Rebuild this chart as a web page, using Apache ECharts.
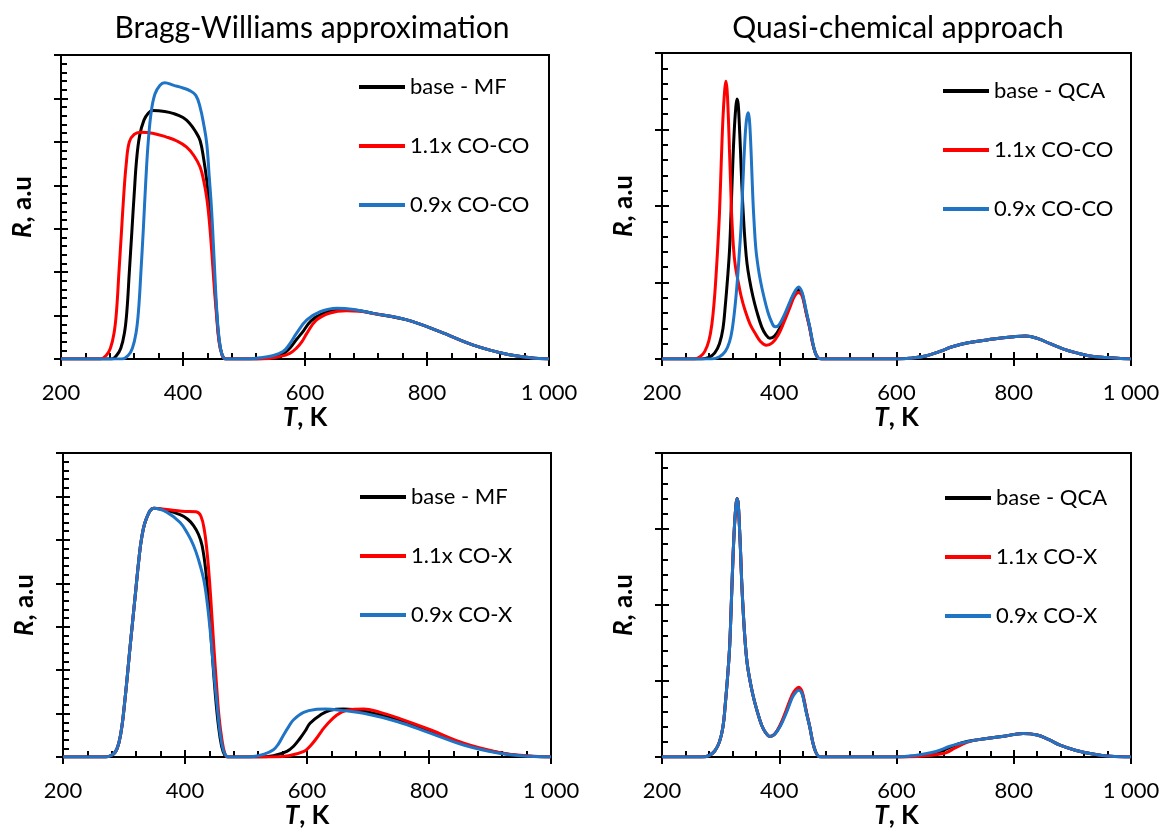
<!DOCTYPE html>
<html>
<head>
<meta charset="utf-8">
<title>TPD panels</title>
<script src="https://cdn.jsdelivr.net/npm/echarts@6/dist/echarts.min.js"></script>
<style>
  html, body { margin: 0; padding: 0; background: #fff; }
  #chart { width: 1163px; height: 830px; }
</style>
</head>
<body>
<div id="chart"></div>
<script>
// ---- text ----
const panelTitles = ['Bragg-Williams approximation', 'Quasi-chemical approach'];
const namesBwCoCo = ['base - MF', '1.1x CO-CO', '0.9x CO-CO'];
const namesQcaCoCo = ['base - QCA', '1.1x CO-CO', '0.9x CO-CO'];
const namesBwCoX = ['base - MF', '1.1x CO-X', '0.9x CO-X'];
const namesQcaCoX = ['base - QCA', '1.1x CO-X', '0.9x CO-X'];

// ---- axes ----
const tempTicks = [200, 400, 600, 800, 1000];
const tempTickLabels = ['200', '400', '600', '800', '1 000'];
const rMaxBw = 7;
const rMaxQca = 4;

// ---- Bragg-Williams, CO-CO scaling (T in K, R in a.u.) ----
const bwCoCoBase = [[200,0],[283,0],[291,0.08],[298,0.25],[304,0.6],[308,1.1],[312,2.0],[316,2.9],[320,3.8],[324,4.6],[329,5.15],[336,5.5],[343,5.66],[350,5.72],[370,5.7],[385,5.65],[400,5.56],[410,5.44],[420,5.25],[428,5.03],[434,4.6],[439,4.1],[443,3.5],[447,2.8],[451,1.9],[455,1.1],[459,0.45],[464,0.1],[470,0],
  [520,0],[545,0.04],[564,0.12],[575,0.25],[586,0.45],[595,0.6],[610,0.88],[630,1.05],[655,1.14],[680,1.13],[712,1.05],[767,0.9],[821,0.63],[876,0.32],[931,0.11],[970,0.03],[1000,0]];
const bwCoCoHigh = [[200,0],[265,0],[274,0.08],[281,0.25],[287,0.6],[291,1.1],[295,2.0],[299,2.9],[303,3.8],[307,4.5],[312,5.0],[320,5.17],[330,5.22],[350,5.2],[373,5.11],[390,5.02],[406,4.88],[418,4.68],[428,4.42],[434,4.1],[439,3.7],[443,3.2],[447,2.5],[451,1.7],[455,1.0],[459,0.4],[464,0.1],[470,0],
  [530,0],[560,0.06],[575,0.13],[586,0.25],[595,0.4],[603,0.59],[619,0.9],[641,1.06],[668,1.11],[690,1.1],[712,1.05],[767,0.9],[821,0.63],[876,0.32],[931,0.11],[970,0.03],[1000,0]];
const bwCoCoLow = [[200,0],[300,0],[310,0.08],[317,0.25],[323,0.6],[327,1.1],[331,2.0],[335,3.0],[339,4.1],[343,5.0],[348,5.7],[354,6.1],[362,6.3],[370,6.36],[385,6.3],[400,6.24],[411,6.18],[421,6.07],[428,5.8],[434,5.4],[439,4.95],[443,4.2],[447,3.4],[451,2.3],[455,1.2],[459,0.5],[464,0.1],[470,0],
  [500,0],[526,0.03],[545,0.07],[564,0.17],[575,0.35],[586,0.59],[603,0.9],[625,1.09],[652,1.17],[680,1.14],[712,1.05],[767,0.9],[821,0.63],[876,0.32],[931,0.11],[970,0.03],[1000,0]];

// ---- Quasi-chemical, CO-CO scaling ----
const qcaHighTail = [[600,0],[623,0.01],[650,0.04],[674,0.1],[695,0.16],[720,0.21],[765,0.26],[800,0.29],[820,0.3],[840,0.27],[862,0.2],[885,0.13],[907,0.08],[930,0.04],[958,0.02],[1000,0]];
const qcaCoCoBase = [[200,0],[268,0],[280,0.02],[290,0.08],[298,0.2],[304,0.4],[308,0.7],[312,1.07],[315,1.4],[317,1.75],[320,2.4],[323,2.95],[326,3.3],[328,3.4],[330,3.33],[332,3.05],[334,2.7],[336,2.3],[339,1.85],[342,1.5],[345,1.25],[349,1.05],[355,0.82],[361,0.64],[370,0.42],[377,0.32],[384,0.27],[392,0.3],[402,0.42],[412,0.6],[422,0.8],[428,0.88],[433,0.91],[438,0.87],[442,0.76],[446,0.61],[452,0.41],[457,0.21],[462,0.07],[467,0.01],[472,0]].concat(qcaHighTail);
const qcaCoCoHigh = [[200,0],[255,0],[265,0.03],[273,0.1],[280,0.24],[285,0.45],[289,0.75],[292,1.07],[295,1.45],[298,1.9],[301,2.55],[304,3.15],[307,3.52],[309,3.63],[311,3.52],[313,3.2],[315,2.75],[317,2.3],[319,1.85],[322,1.45],[325,1.22],[329,1.05],[335,0.82],[341.5,0.64],[350,0.46],[358.6,0.34],[368,0.23],[378,0.18],[388,0.21],[398,0.31],[408,0.48],[418,0.67],[426,0.82],[433,0.87],[438,0.84],[442,0.74],[446,0.6],[452,0.4],[457,0.2],[462,0.07],[467,0.01],[472,0]].concat(qcaHighTail);
const qcaCoCoLow = [[200,0],[285,0],[298,0.03],[308,0.1],[315,0.22],[320,0.4],[325,0.72],[329,1.07],[332,1.4],[335,1.75],[338,2.3],[341,2.8],[344,3.12],[347,3.22],[349,3.14],[351,2.88],[353,2.5],[355,2.1],[357,1.8],[360,1.45],[364,1.2],[368,1.02],[373,0.84],[380,0.63],[386,0.5],[393,0.42],[400,0.45],[410,0.6],[420,0.78],[428,0.9],[433,0.94],[438,0.89],[442,0.78],[446,0.63],[452,0.42],[457,0.22],[462,0.07],[467,0.01],[472,0]].concat(qcaHighTail);

// ---- Bragg-Williams, CO-X scaling ----
const bwCoXRise = [[200,0],[270,0],[278,0.03],[286,0.12],[292,0.35],[297,0.75],[301,1.25],[305,1.8],[309,2.4],[314,3.1],[319,3.8],[324,4.5],[329,5.05],[337,5.5],[349,5.73]];
const bwCoXBase = bwCoXRise.concat([[370,5.68],[392,5.58],[404,5.48],[414,5.33],[422,5.13],[428,4.87],[434,4.3],[439,3.49],[444,2.5],[450,1.4],[455,0.7],[460,0.25],[465,0.05],[470,0],
  [520,0],[545,0.03],[567,0.13],[578,0.25],[589,0.44],[597,0.6],[605,0.78],[622,0.97],[638,1.08],[660,1.11],[693,1.06],[747.5,0.86],[802,0.58],[857,0.3],[911,0.11],[950,0.03],[1000,0]]);
const bwCoXHigh = bwCoXRise.concat([[370,5.7],[395,5.66],[418,5.65],[426,5.55],[432,5.2],[437,4.6],[442,3.7],[447,2.6],[452,1.6],[456,0.9],[460.6,0.4],[465,0.1],[470,0],
  [540,0],[570,0.03],[595,0.13],[605,0.25],[616,0.44],[624,0.6],[632,0.74],[649,0.97],[665.6,1.08],[693,1.11],[720,1.03],[747.5,0.91],[802,0.63],[857,0.32],[911,0.12],[950,0.04],[1000,0]]);
const bwCoXLow = bwCoXRise.concat([[370,5.64],[392,5.4],[404,5.15],[414,4.87],[422,4.55],[430.5,4.1],[436,3.6],[441.5,2.88],[447,2.0],[452.5,1.2],[458,0.5],[463,0.15],[468,0.02],[472,0],
  [500,0],[515,0.02],[530,0.07],[545,0.17],[553,0.3],[561.6,0.51],[570,0.7],[578,0.86],[594.5,1.03],[616,1.1],[630,1.11],[660,1.07],[693,1.01],[747.5,0.82],[802,0.55],[856.7,0.28],[911,0.1],[950,0.03],[1000,0]]);

// ---- Quasi-chemical, CO-X scaling ----
const qcaCoXPeak = [[200,0],[268,0],[280,0.02],[290,0.08],[298,0.2],[304,0.4],[308,0.7],[312,1.07],[315,1.4],[317,1.75],[320,2.4],[323,2.95],[326,3.3],[328,3.4],[330,3.33],[332,3.05],[334,2.7],[336,2.3],[339,1.85],[342,1.5],[345,1.25],[349,1.05],[355,0.82],[361,0.64],[370,0.42],[377,0.32],[384,0.27],[392,0.3]];
const qcaCoXTailEnd = [[740,0.23],[780,0.27],[816,0.31],[840,0.29],[860,0.23],[878,0.16],[905,0.09],[935,0.04],[965,0.01],[1000,0]];
const qcaCoXBase = qcaCoXPeak.concat([[402,0.42],[412,0.6],[422,0.8],[428,0.87],[433,0.9],[438,0.86],[442,0.75],[446,0.6],[452,0.4],[457,0.2],[462,0.07],[467,0.01],[472,0],
  [600,0],[625,0.01],[650,0.03],[674,0.07],[695,0.14],[712,0.19]], qcaCoXTailEnd);
const qcaCoXHigh = qcaCoXPeak.concat([[402,0.43],[412,0.62],[422,0.82],[428,0.89],[433,0.92],[438,0.88],[442,0.77],[446,0.61],[452,0.4],[457,0.2],[462,0.07],[467,0.01],[472,0],
  [600,0],[630,0.005],[655,0.02],[670,0.035],[685,0.06],[700,0.12],[719,0.19]], qcaCoXTailEnd);
const qcaCoXLow = qcaCoXPeak.concat([[402,0.41],[412,0.58],[422,0.78],[428,0.85],[433,0.88],[438,0.85],[442,0.74],[446,0.59],[452,0.4],[457,0.2],[462,0.07],[467,0.01],[472,0],
  [600,0],[617,0.01],[640,0.03],[660,0.06],[674,0.09],[690,0.14],[708,0.18]], qcaCoXTailEnd);

const colors = ['#000000', '#ff0000', '#1f74c6'];
const FONT = 'Lato';

const panels = [
  { grid: { left: 61, top: 55, width: 488, height: 304 }, rMax: rMaxBw, names: namesBwCoCo, data: [bwCoCoBase, bwCoCoHigh, bwCoCoLow], legend: { left: 354, top: 71 } },
  { grid: { left: 662, top: 53, width: 469, height: 306 }, rMax: rMaxQca, names: namesQcaCoCo, data: [qcaCoCoBase, qcaCoCoHigh, qcaCoCoLow], legend: { left: 938, top: 75 } },
  { grid: { left: 63, top: 453, width: 488, height: 306 }, rMax: rMaxBw, names: namesBwCoX, data: [bwCoXBase, bwCoXHigh, bwCoXLow], legend: { left: 355, top: 481 } },
  { grid: { left: 662, top: 453, width: 469, height: 306 }, rMax: rMaxQca, names: namesQcaCoX, data: [qcaCoXBase, qcaCoXHigh, qcaCoXLow], legend: { left: 940, top: 482 } }
];

const tick = { color: '#000', width: 2 };
const nameRich = {
  i: { fontFamily: FONT, fontSize: 26, fontWeight: 'bold', fontStyle: 'italic', color: '#000' },
  b: { fontFamily: FONT, fontSize: 26, fontWeight: 'bold', color: '#000' }
};

const grids = [], xAxes = [], yAxes = [], series = [], legends = [];
panels.forEach((p, i) => {
  grids.push(Object.assign({ show: true, borderColor: '#000', borderWidth: 2, containLabel: false }, p.grid));
  // main x axis: labels + outward major ticks
  xAxes.push({
    gridIndex: i, type: 'value', position: 'bottom', min: 200, max: 1000, interval: 200,
    axisLine: { lineStyle: { color: '#000', width: 2 } },
    axisTick: { inside: false, length: 7, lineStyle: tick },
    axisLabel: { margin: 23, fontFamily: FONT, fontSize: 22, color: '#000',
      formatter: v => tempTickLabels[tempTicks.indexOf(v)] },
    splitLine: { show: false },
    name: '{i|T}{b|, K}', nameLocation: 'middle', nameGap: 41,
    nameTextStyle: { rich: nameRich }
  });
  // twin x axis: inward major + minor ticks
  xAxes.push({
    gridIndex: i, type: 'value', position: 'bottom', min: 200, max: 1000, interval: 200,
    axisLine: { show: false },
    axisTick: { inside: true, length: 7, lineStyle: tick },
    minorTick: { show: true, splitNumber: 5, length: 6, lineStyle: tick },
    axisLabel: { show: false }, splitLine: { show: false }
  });
  yAxes.push({
    gridIndex: i, type: 'value', position: 'left', min: 0, max: p.rMax, interval: 1,
    axisLine: { show: true, lineStyle: { color: '#000', width: 2 } },
    axisTick: { show: true, inside: false, length: 7, lineStyle: tick },
    axisLabel: { show: false }, splitLine: { show: false },
    name: '{i|R}{b|, a.u}', nameLocation: 'middle', nameRotate: 90, nameGap: 25,
    nameTextStyle: { rich: nameRich }
  });
  yAxes.push({
    gridIndex: i, type: 'value', position: 'left', min: 0, max: p.rMax, interval: 1,
    axisLine: { show: false },
    axisTick: { show: true, inside: true, length: 7, lineStyle: tick },
    minorTick: { show: true, splitNumber: 5, length: 6, lineStyle: tick },
    axisLabel: { show: false }, splitLine: { show: false }
  });
  p.names.forEach((n, k) => {
    series.push({
      name: n, type: 'line', xAxisIndex: 2 * i, yAxisIndex: 2 * i,
      data: p.data[k], showSymbol: false, symbol: 'none', smooth: 0.4,
      color: colors[k], lineStyle: { color: colors[k], width: 3 }, z: 2 + k
    });
  });
  legends.push({
    data: p.names, left: p.legend.left, top: p.legend.top, orient: 'vertical',
    icon: 'rect', itemWidth: 46, itemHeight: 4, itemGap: 37, selectedMode: false,
    textStyle: { fontFamily: FONT, fontSize: 22, color: '#000', lineHeight: 21 }
  });
});

const chart = echarts.init(document.getElementById('chart'));
chart.setOption({
  animation: false,
  backgroundColor: '#fff',
  title: [
    { text: panelTitles[0], left: 307, top: 8, textAlign: 'center', textStyle: { fontFamily: FONT, fontSize: 30, fontWeight: 'normal', color: '#000' } },
    { text: panelTitles[1], left: 893, top: 8, textAlign: 'center', textStyle: { fontFamily: FONT, fontSize: 30, fontWeight: 'normal', color: '#000' } }
  ],
  legend: legends,
  grid: grids,
  xAxis: xAxes,
  yAxis: yAxes,
  series: series
});
</script>
</body>
</html>
